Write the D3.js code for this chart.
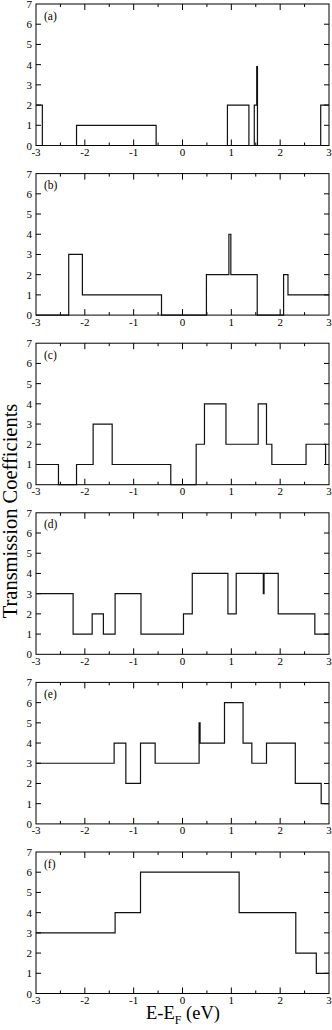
<!DOCTYPE html>
<html>
<head>
<meta charset="utf-8">
<script src="https://cdn.jsdelivr.net/npm/d3@7"></script>
<style>
body { margin: 0; background: #fff; }
svg text { font-family: "Liberation Serif", "Times New Roman", serif; fill: #000; }
</style>
</head>
<body>
<div class="svgContainer"></div>
<script>
// Statics
var PANEL_LABELS = ["(a)", "(b)", "(c)", "(d)", "(e)", "(f)"];
var X_TICKS = [-3, -2, -1, 0, 1, 2, 3];
var Y_TICKS = [0, 1, 2, 3, 4, 5, 6, 7];

// step data: energy where each step starts, and its value
var aE = [-3, -2.87, -2.17, -0.54, 0.92, 1.36, 1.47, 1.52, 1.535, 2.83, 3];
var aT = [2, 0, 1, 0, 2, 0, 2, 3.9, 0, 2, 2];
var bE = [-3, -2.33, -2.05, -0.43, 0.49, 0.95, 0.99, 1.53, 2.07, 2.16, 3];
var bT = [0, 3, 1, 0, 2, 4, 2, 0, 2, 1, 1];
var cE = [-3, -2.54, -2.17, -1.83, -1.44, -0.24, 0.28, 0.45, 0.89, 1.55, 1.72, 1.83, 2.53, 2.93, 3];
var cT = [1, 0, 1, 3, 1, 0, 2, 4, 2, 4, 2, 1, 2, 1, 1];
var dE = [-3, -2.24, -1.85, -1.62, -1.38, -0.85, 0.02, 0.20, 0.93, 1.10, 1.655, 1.67, 1.96, 2.71, 3];
var dT = [3, 1, 2, 1, 3, 1, 2, 4, 2, 4, 3, 4, 2, 1, 1];
var eE = [-3, -1.40, -1.16, -0.86, -0.56, 0.34, 0.36, 0.86, 1.24, 1.42, 1.72, 2.31, 2.84, 3];
var eT = [3, 4, 2, 4, 3, 5, 4, 6, 4, 3, 4, 2, 1, 1];
var fE = [-3, -1.38, -0.86, 1.16, 2.32, 2.74, 3];
var fT = [3, 4, 6, 4, 2, 1, 1];

var ENERGIES = [aE, bE, cE, dE, eE, fE];
var TRANS = [aT, bT, cT, dT, eT, fT];
// End statics

var W = 332, H = 1030;
var left = 36, right = 329;
var panelTop = 4, panelStep = 169.6, panelH = 141.5;

var svg = d3.select(".svgContainer").append("svg")
    .attr("width", W)
    .attr("height", H);

var x = d3.scaleLinear().domain([-3, 3]).range([left, right]);
var xMinor = d3.range(-2.5, 3, 1);

function drawPanel(i) {
    var py = panelTop + i * panelStep;
    var y = d3.scaleLinear().domain([0, 7]).range([py + panelH, py]);
    var g = svg.append("g");

    // frame
    g.append("rect")
        .attr("x", left).attr("y", py)
        .attr("width", right - left).attr("height", panelH)
        .attr("fill", "none").attr("stroke", "#000").attr("stroke-width", 1);

    // x ticks, inward on top and bottom
    function xTicks(data, len) {
        g.append("g").selectAll("line").data(data).enter().append("line")
            .attr("x1", function(d) { return x(d); }).attr("x2", function(d) { return x(d); })
            .attr("y1", py + panelH).attr("y2", py + panelH - len)
            .attr("stroke", "#000");
        g.append("g").selectAll("line").data(data).enter().append("line")
            .attr("x1", function(d) { return x(d); }).attr("x2", function(d) { return x(d); })
            .attr("y1", py).attr("y2", py + len)
            .attr("stroke", "#000");
    }
    xTicks(X_TICKS.slice(1, -1), 6);
    xTicks(xMinor, 3);

    g.append("g").selectAll("text").data(X_TICKS).enter().append("text")
        .attr("x", function(d) { return x(d); })
        .attr("y", py + panelH + 10.5)
        .attr("text-anchor", "middle")
        .attr("font-size", 11)
        .text(function(d) { return d; });

    // y ticks left and right
    g.append("g").selectAll("line").data(Y_TICKS.slice(1, -1)).enter().append("line")
        .attr("x1", left).attr("x2", left + 5)
        .attr("y1", function(d) { return y(d); }).attr("y2", function(d) { return y(d); })
        .attr("stroke", "#000");
    g.append("g").selectAll("line").data(Y_TICKS.slice(1, -1)).enter().append("line")
        .attr("x1", right).attr("x2", right - 5)
        .attr("y1", function(d) { return y(d); }).attr("y2", function(d) { return y(d); })
        .attr("stroke", "#000");
    g.append("g").selectAll("text").data(Y_TICKS).enter().append("text")
        .attr("x", left - 4)
        .attr("y", function(d) { return y(d) + 4; })
        .attr("text-anchor", "end")
        .attr("font-size", 11)
        .text(function(d) { return d; });

    // panel label
    g.append("text")
        .attr("x", left + 8).attr("y", py + 15.5)
        .attr("font-size", 11.5)
        .text(PANEL_LABELS[i]);

    // the step curve
    var pts = ENERGIES[i].map(function(e, k) { return [e, TRANS[i][k]]; });
    var line = d3.line()
        .x(function(d) { return x(d[0]); })
        .y(function(d) { return y(d[1]); })
        .curve(d3.curveStepAfter);
    g.append("path")
        .datum(pts)
        .attr("d", line)
        .attr("fill", "none")
        .attr("stroke", "#111")
        .attr("stroke-width", 1.2);
}

for (var i = 0; i < 6; i++) {
    drawPanel(i);
}

// axis titles
svg.append("text")
    .attr("transform", "translate(17,511) rotate(-90)")
    .attr("text-anchor", "middle")
    .attr("font-size", 20.5)
    .text("Transmission Coefficients");

var xt = svg.append("text")
    .attr("x", 183).attr("y", 1019)
    .attr("text-anchor", "middle")
    .attr("font-size", 18.5);
xt.append("tspan").text("E-E");
xt.append("tspan").attr("font-size", 12).attr("dy", 5).text("F");
xt.append("tspan").attr("dy", -5).text(" (eV)");
</script>
</body>
</html>
